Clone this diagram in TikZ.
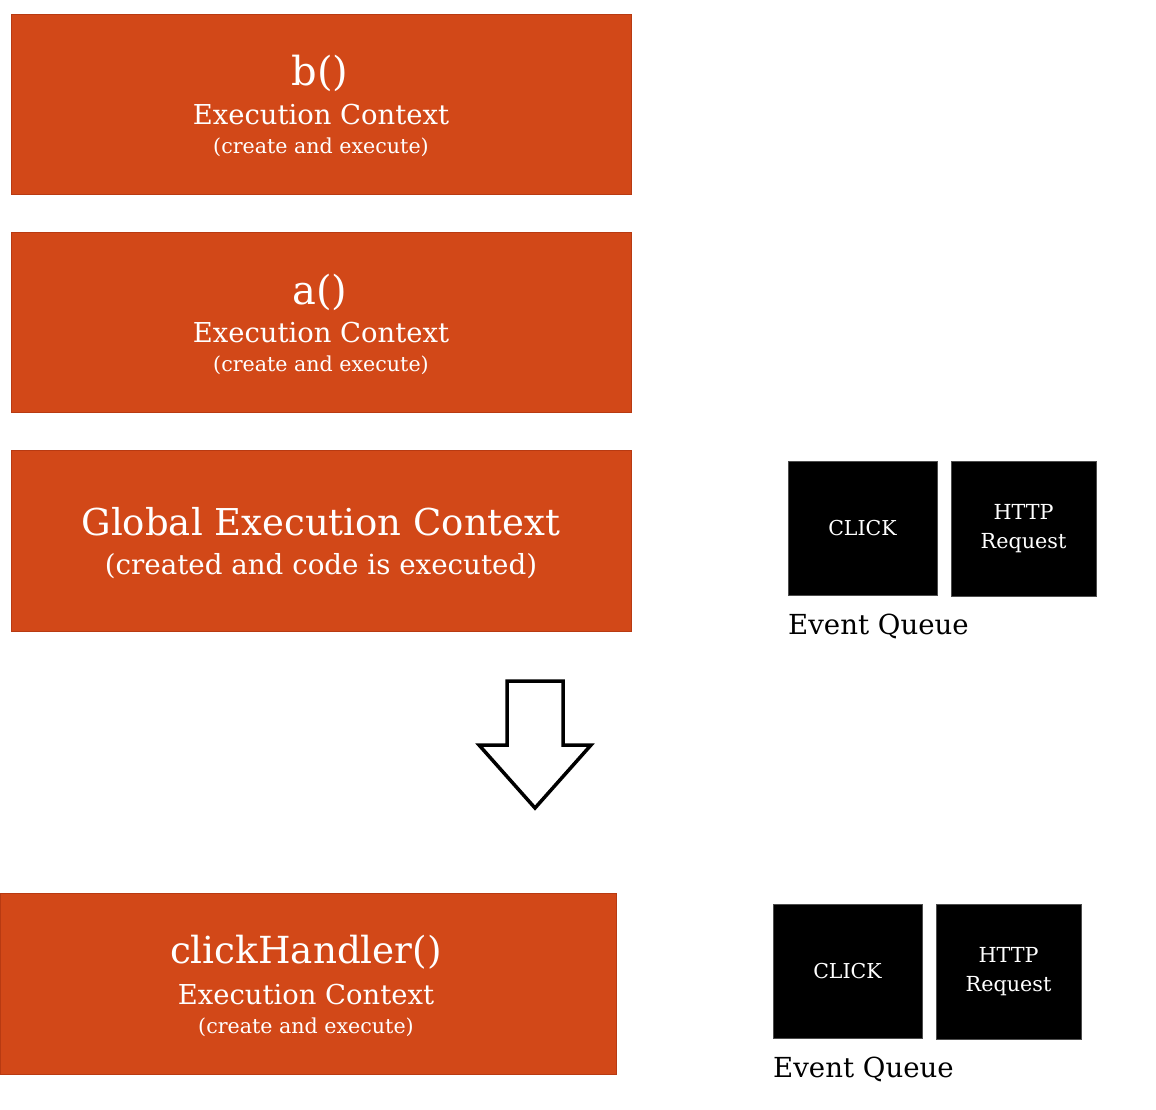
\documentclass[tikz,border=0pt]{standalone}
\usepackage{fontspec}
\setmainfont{DejaVu Serif}
\definecolor{ecorange}{HTML}{D24818}
\definecolor{ecedge}{HTML}{B83A12}
\tikzset{
  ctx/.style={fill=ecorange, draw=ecedge, line width=0.8pt, text=white, align=center, inner sep=0pt},
  ctxtext/.style={text=white, inner sep=0pt},
  evbox/.style={fill=black, draw=black!70, line width=0.6pt, text=white, align=center, inner sep=0pt},
  evlabel/.style={anchor=west, inner sep=0pt, text=black},
}
\begin{document}
\begin{tikzpicture}[x=1pt,y=-1pt]
\useasboundingbox[fill=white] (0,0) rectangle (1156,1109);
% b()
\node[ctx, minimum width=620pt, minimum height=180pt] (b) at (321,104) {};
\node[ctxtext, font=\fontsize{40}{44}\selectfont] (bt) at (320,73) {b()};
\node[ctxtext, font=\fontsize{27.4}{30}\selectfont] (be) at (321,115) {Execution Context};
\node[ctxtext, font=\fontsize{20.6}{24}\selectfont] (bc) at (321,147) {(create and execute)};
% a()
\node[ctx, minimum width=620pt, minimum height=180pt] (a) at (321,322) {};
\node[ctxtext, font=\fontsize{40}{44}\selectfont] (at) at (320,292) {a()};
\node[ctxtext, font=\fontsize{27.4}{30}\selectfont] (ae) at (321,333) {Execution Context};
\node[ctxtext, font=\fontsize{20.6}{24}\selectfont] (ac) at (321,365) {(create and execute)};
% Global
\node[ctx, minimum width=620pt, minimum height=181pt] (g) at (321,540.5) {};
\node[ctxtext, font=\fontsize{37}{40}\selectfont] (gt) at (321,522) {Global Execution Context};
\node[ctxtext, font=\fontsize{27.7}{30}\selectfont] (gc) at (321,566) {(created and code is executed)};
% clickHandler
\node[ctx, minimum width=616pt, minimum height=181pt] (c) at (308,983.5) {};
\node[ctxtext, font=\fontsize{37.3}{40}\selectfont] (ct) at (306,952) {clickHandler()};
\node[ctxtext, font=\fontsize{27.4}{30}\selectfont] (ce) at (306,995) {Execution Context};
\node[ctxtext, font=\fontsize{20.6}{24}\selectfont] (cc) at (306,1027) {(create and execute)};
% top event queue
\node[evbox, minimum width=149pt, minimum height=134pt, font=\fontsize{20.5}{24}\selectfont] (click1) at (862.5,528) {CLICK};
\node[evbox, minimum width=145pt, minimum height=135pt, font=\fontsize{20.7}{29}\selectfont] (http1) at (1023.5,528.5) {HTTP\\Request};
\node[evlabel, font=\fontsize{27.6}{30}\selectfont] (eq1) at (788,626) {Event Queue};
% bottom event queue
\node[evbox, minimum width=149pt, minimum height=134pt, font=\fontsize{20.5}{24}\selectfont] (click2) at (847.5,971) {CLICK};
\node[evbox, minimum width=145pt, minimum height=135pt, font=\fontsize{20.7}{29}\selectfont] (http2) at (1008.5,971.5) {HTTP\\Request};
\node[evlabel, font=\fontsize{27.6}{30}\selectfont] (eq2) at (773,1069) {Event Queue};
% big down arrow
\draw[line width=3.5pt, fill=white, line join=miter]
  (507,681) -- (563,681) -- (563,745) -- (591,745) -- (535,808) -- (479,745) -- (507,745) -- cycle;
\end{tikzpicture}
\end{document}
